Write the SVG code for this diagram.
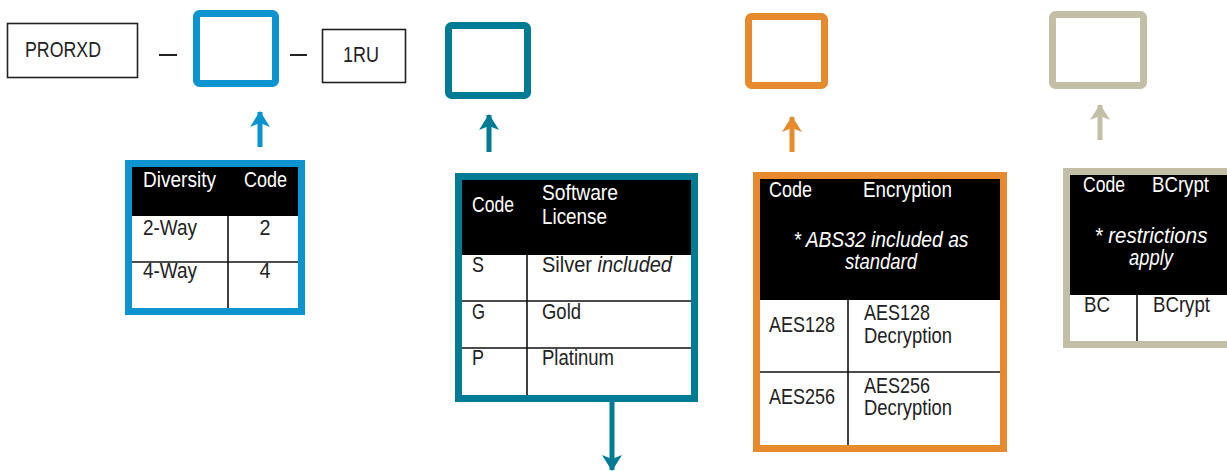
<svg xmlns="http://www.w3.org/2000/svg" width="1227" height="471" viewBox="0 0 1227 471">
<style>
text{font-family:"Liberation Sans",Arial,sans-serif;font-size:22.5px;fill:#222}
.h{fill:#fff}
.i{font-style:italic}
.m{text-anchor:middle}
.hdr{fill:#000}
.thin{stroke:#111;stroke-width:1.6;fill:none}
.lbl{fill:#fff;stroke:#222;stroke-width:1.6}
.sh{stroke-width:5;fill:none}
</style>
<defs>
<marker id="aBlue" markerUnits="userSpaceOnUse" viewBox="0 0 16 20" refX="15" refY="10" markerWidth="16" markerHeight="20" orient="auto"><path d="M0,0 L16,10 L0,20 L4,10 Z" fill="#0b94d0"/></marker>
<marker id="aTeal" markerUnits="userSpaceOnUse" viewBox="0 0 16 20" refX="15" refY="10" markerWidth="16" markerHeight="20" orient="auto"><path d="M0,0 L16,10 L0,20 L4,10 Z" fill="#007b95"/></marker>
<marker id="aOrange" markerUnits="userSpaceOnUse" viewBox="0 0 16 20" refX="15" refY="10" markerWidth="16" markerHeight="20" orient="auto"><path d="M0,0 L16,10 L0,20 L4,10 Z" fill="#e78a2d"/></marker>
<marker id="aBeige" markerUnits="userSpaceOnUse" viewBox="0 0 16 20" refX="15" refY="10" markerWidth="16" markerHeight="20" orient="auto"><path d="M0,0 L16,10 L0,20 L4,10 Z" fill="#c3bea6"/></marker>
</defs>
<rect width="1227" height="471" fill="#fff"/>

<g id="prorxd">
<rect class="lbl" x="7.5" y="23.5" width="130" height="54"/>
<text x="25" y="57" font-size="25" textLength="76" lengthAdjust="spacingAndGlyphs">PRORXD</text>
</g>
<g id="dashes">
<line x1="159" y1="55" x2="177" y2="55" stroke="#222" stroke-width="2"/>
<line x1="290" y1="55" x2="307" y2="55" stroke="#222" stroke-width="2"/>
</g>
<g id="slot-diversity"><rect x="196.5" y="13.5" width="79" height="70" rx="3" fill="none" stroke="#0b94d0" stroke-width="7"/></g>
<g id="ru"><rect class="lbl" x="322.5" y="29.5" width="83" height="53"/>
<text x="343" y="62" font-size="23" textLength="36" lengthAdjust="spacingAndGlyphs">1RU</text></g>
<g id="slot-license"><rect x="448.5" y="25.5" width="79" height="70" rx="3" fill="none" stroke="#007b95" stroke-width="7"/></g>
<g id="slot-encryption"><rect x="748.5" y="16.5" width="76" height="69" rx="3" fill="none" stroke="#e78a2d" stroke-width="7"/></g>
<g id="slot-bcrypt"><rect x="1052.5" y="14.5" width="91" height="71" rx="3" fill="none" stroke="#c3bea6" stroke-width="7"/></g>

<g id="connectors">
<line class="sh" x1="260" y1="147" x2="260" y2="112" stroke="#0b94d0" marker-end="url(#aBlue)"/>
<line class="sh" x1="489" y1="152" x2="489" y2="115" stroke="#007b95" marker-end="url(#aTeal)"/>
<line class="sh" x1="792" y1="152" x2="792" y2="117" stroke="#e78a2d" marker-end="url(#aOrange)"/>
<line class="sh" x1="1100" y1="140" x2="1100" y2="105" stroke="#c3bea6" marker-end="url(#aBeige)"/>
<line class="sh" x1="612" y1="402" x2="612" y2="470" stroke="#007b95" marker-end="url(#aTeal)"/>
</g>

<g id="table-diversity">
<rect x="128.5" y="163.5" width="173" height="148" fill="#fff" stroke="#0b94d0" stroke-width="7"/>
<rect class="hdr" x="132" y="167" width="166" height="49"/>
<line class="thin" x1="132" y1="262" x2="298" y2="262"/>
<line class="thin" x1="228" y1="216" x2="228" y2="308"/>
<text class="h" x="143" y="187" textLength="73" lengthAdjust="spacingAndGlyphs">Diversity</text>
<text class="h" x="244" y="187" textLength="43" lengthAdjust="spacingAndGlyphs">Code</text>
<text x="143" y="235" textLength="54" lengthAdjust="spacingAndGlyphs">2-Way</text>
<text class="m" x="265" y="235" textLength="11" lengthAdjust="spacingAndGlyphs">2</text>
<text x="143" y="278" textLength="54" lengthAdjust="spacingAndGlyphs">4-Way</text>
<text class="m" x="265" y="278" textLength="11" lengthAdjust="spacingAndGlyphs">4</text>
</g>

<g id="table-license">
<rect x="458.5" y="176.5" width="236" height="222" fill="#fff" stroke="#007b95" stroke-width="7"/>
<rect class="hdr" x="462" y="180" width="229" height="75"/>
<line class="thin" x1="462" y1="301" x2="691" y2="301"/>
<line class="thin" x1="462" y1="348" x2="691" y2="348"/>
<line class="thin" x1="527" y1="255" x2="527" y2="395"/>
<text class="h" x="472" y="212" textLength="42" lengthAdjust="spacingAndGlyphs">Code</text>
<text class="h" x="542" y="200" textLength="76" lengthAdjust="spacingAndGlyphs">Software</text>
<text class="h" x="542" y="224" textLength="65" lengthAdjust="spacingAndGlyphs">License</text>
<text x="472" y="272" textLength="12" lengthAdjust="spacingAndGlyphs">S</text>
<text x="542" y="272" textLength="130" lengthAdjust="spacingAndGlyphs">Silver <tspan class="i">included</tspan></text>
<text x="472" y="319" textLength="13" lengthAdjust="spacingAndGlyphs">G</text>
<text x="542" y="319" textLength="39" lengthAdjust="spacingAndGlyphs">Gold</text>
<text x="472" y="365" textLength="12" lengthAdjust="spacingAndGlyphs">P</text>
<text x="542" y="365" textLength="72" lengthAdjust="spacingAndGlyphs">Platinum</text>
</g>

<g id="table-encryption">
<rect x="756.5" y="175.5" width="247" height="273" fill="#fff" stroke="#e78a2d" stroke-width="7"/>
<rect class="hdr" x="760" y="179" width="240" height="121"/>
<line class="thin" x1="760" y1="372" x2="1000" y2="372"/>
<line class="thin" x1="848" y1="300" x2="848" y2="445"/>
<text class="h" x="769" y="197" textLength="43" lengthAdjust="spacingAndGlyphs">Code</text>
<text class="h" x="863" y="197" textLength="89" lengthAdjust="spacingAndGlyphs">Encryption</text>
<text class="h i m" x="881" y="247" textLength="175" lengthAdjust="spacingAndGlyphs">* ABS32 included as</text>
<text class="h i m" x="881" y="269" textLength="72" lengthAdjust="spacingAndGlyphs">standard</text>
<text x="769" y="332" textLength="66" lengthAdjust="spacingAndGlyphs">AES128</text>
<text x="864" y="320" textLength="66" lengthAdjust="spacingAndGlyphs">AES128</text>
<text x="864" y="343" textLength="88" lengthAdjust="spacingAndGlyphs">Decryption</text>
<text x="769" y="404" textLength="66" lengthAdjust="spacingAndGlyphs">AES256</text>
<text x="864" y="393" textLength="66" lengthAdjust="spacingAndGlyphs">AES256</text>
<text x="864" y="415" textLength="88" lengthAdjust="spacingAndGlyphs">Decryption</text>
</g>

<g id="table-bcrypt">
<rect x="1066.5" y="171.5" width="170" height="173" fill="#fff" stroke="#c3bea6" stroke-width="7"/>
<rect class="hdr" x="1070" y="175" width="160" height="120"/>
<line class="thin" x1="1137" y1="295" x2="1137" y2="341"/>
<text class="h" x="1083" y="192" textLength="42" lengthAdjust="spacingAndGlyphs">Code</text>
<text class="h" x="1152" y="192" textLength="57" lengthAdjust="spacingAndGlyphs">BCrypt</text>
<text class="h i m" x="1151" y="243" textLength="113" lengthAdjust="spacingAndGlyphs">* restrictions</text>
<text class="h i m" x="1151" y="265" textLength="44" lengthAdjust="spacingAndGlyphs">apply</text>
<text x="1084" y="312" textLength="26" lengthAdjust="spacingAndGlyphs">BC</text>
<text x="1153" y="312" textLength="57" lengthAdjust="spacingAndGlyphs">BCrypt</text>
</g>
</svg>
